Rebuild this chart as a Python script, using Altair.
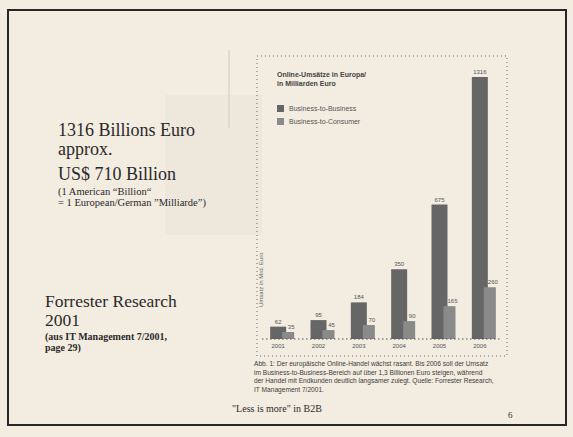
import altair as alt
import pandas as pd

# ---- data ----
years = ["2001", "2002", "2003", "2004", "2005", "2006"]
b2b = [62, 95, 184, 350, 675, 1316]
b2c = [35, 45, 70, 90, 165, 260]

series_b2b = "Business-to-Business"
series_b2c = "Business-to-Consumer"

df_b2b = pd.DataFrame({"year": years, "value": b2b})
df_b2c = pd.DataFrame({"year": years, "value": b2c})

left_lines_1 = ["1316 Billions Euro", "approx.", "US$ 710 Billion"]
left_lines_2 = ["(1 American \u201cBillion\u201c", "= 1 European/German \u201dMilliarde\u201d)"]
source_lines_1 = ["Forrester Research", "2001"]
source_lines_2 = ["(aus IT Management 7/2001,", "page 29)"]
chart_title = ["Online-Umsätze in Europa/", "in Milliarden Euro"]
caption = [
    "Abb. 1: Der europäische Online-Handel wächst rasant. Bis 2006 soll der Umsatz",
    "im Business-to-Business-Bereich auf über 1,3 Billionen Euro steigen, während",
    "der Handel mit Endkunden deutlich langsamer zulegt. Quelle: Forrester Research,",
    "IT Management 7/2001.",
]
footer = "\"Less is more\" in B2B"
page_no = "6"

# plot origin on page: (258, 77)
OX, OY = 258, 77
W, H = 242, 262

one = alt.Data(values=[{"a": 1}])

def txt(t, x, y, size, font="Liberation Serif", weight="normal", color="#2a2a2a", angle=0, align="left"):
    props = dict(text=t, fontSize=size, font=font, fontWeight=weight, color=color,
                 align=align, baseline="alphabetic")
    if angle:
        props["angle"] = angle
    return alt.Chart(one).mark_text(**props).encode(
        x=alt.value(x - OX), y=alt.value(y - OY))

def box(x1, y1, x2, y2, stroke, sw, dash=None, fill="transparent", opacity=1):
    props = dict(fill=fill, strokeWidth=sw, opacity=opacity)
    if stroke:
        props["stroke"] = stroke
    if dash:
        props["strokeDash"] = dash
    return alt.Chart(one).mark_rect(**props).encode(
        x=alt.value(x1 - OX), x2=alt.value(x2 - OX),
        y=alt.value(y1 - OY), y2=alt.value(y2 - OY))

def rule(x1, y1, x2, y2, color, sw, dash=None):
    props = dict(color=color, strokeWidth=sw)
    if dash:
        props["strokeDash"] = dash
    return alt.Chart(one).mark_rule(**props).encode(
        x=alt.value(x1 - OX), x2=alt.value(x2 - OX),
        y=alt.value(y1 - OY), y2=alt.value(y2 - OY))

layers = []
# slide border
layers.append(box(8, 10, 566, 425, "#262626", 2))
# faint halftone shading near left text
layers.append(box(165, 95, 262, 235, None, 0, fill="#e6dfd3", opacity=0.35))
# faint vertical line
layers.append(rule(229, 50, 229, 128, "#d0c9bd", 1))
# dotted chart frame
layers.append(box(257, 56, 507, 356, "#6a6a6a", 1, dash=[1, 3]))

xenc = alt.X("year:N", sort=years, axis=None,
             scale=alt.Scale(paddingInner=0, paddingOuter=0))
yenc = alt.Y("value:Q", axis=None, scale=alt.Scale(domain=[0, 1316], nice=False))

dark = alt.Chart(df_b2b).mark_bar(width=16, color="#666666").encode(x=xenc, y=yenc)
light = alt.Chart(df_b2c).mark_bar(width=12, xOffset=10, color="#8a8a8a").encode(x=xenc, y=yenc)
dark_lbl = alt.Chart(df_b2b).mark_text(fontSize=6, font="Liberation Sans", color="#555",
                                       dy=-3, baseline="alphabetic").encode(
    x=xenc, y=yenc, text="value:Q")
light_lbl = alt.Chart(df_b2c).mark_text(fontSize=6, font="Liberation Sans", color="#555",
                                        dy=-3, dx=13, baseline="alphabetic").encode(
    x=xenc, y=yenc, text="value:Q")
year_lbl = alt.Chart(df_b2b).mark_text(fontSize=6, font="Liberation Sans", color="#555",
                                       baseline="top").encode(
    x=xenc, y=alt.value(H + 4), text="year:N")
layers += [dark, light, dark_lbl, light_lbl, year_lbl]

# dotted baseline
layers.append(rule(262, OY + H, 500, OY + H, "#555", 1.2, dash=[1.5, 2.5]))

# chart title & legend
layers.append(txt(chart_title[0], 277, 77, 7, font="Liberation Sans", weight="bold", color="#444"))
layers.append(txt(chart_title[1], 277, 86, 7, font="Liberation Sans", weight="bold", color="#444"))
layers.append(box(277, 105, 284, 112, None, 0, fill="#666666"))
layers.append(box(277, 118, 284, 125, None, 0, fill="#8a8a8a"))
layers.append(txt(series_b2b, 289, 111, 7, font="Liberation Sans", color="#555"))
layers.append(txt(series_b2c, 289, 124, 7, font="Liberation Sans", color="#555"))
# rotated axis label
layers.append(txt("Umsatz in Mrd. Euro", 263, 307, 6, font="Liberation Sans", color="#666", angle=270))

# caption below chart
for i, line in enumerate(caption):
    layers.append(txt(line, 254, 366 + i * 8.5, 6.6, font="Liberation Sans", color="#3c3c3c"))

# left texts
for t, y in zip(left_lines_1, [136, 155, 180]):
    layers.append(txt(t, 58, y, 18))
for t, y in zip(left_lines_2, [195, 206]):
    layers.append(txt(t, 58, y, 10.5))
for t, y in zip(source_lines_1, [307, 326]):
    layers.append(txt(t, 45, y, 17.5))
for t, y in zip(source_lines_2, [340, 351]):
    layers.append(txt(t, 45, y, 10, weight="bold"))

# footer
layers.append(txt(footer, 232, 412, 10))
layers.append(txt(page_no, 508, 418, 9))

chart = alt.layer(*layers).properties(
    width=W, height=H,
    padding={"left": OX, "top": OY, "right": 573 - OX - W, "bottom": 437 - OY - H},
    autosize=alt.AutoSizeParams(type="none"),
    background="#f3ece0",
).configure_view(stroke=None, clip=False)

chart.save("out.html", embed_options={"renderer": "svg", "actions": False})
